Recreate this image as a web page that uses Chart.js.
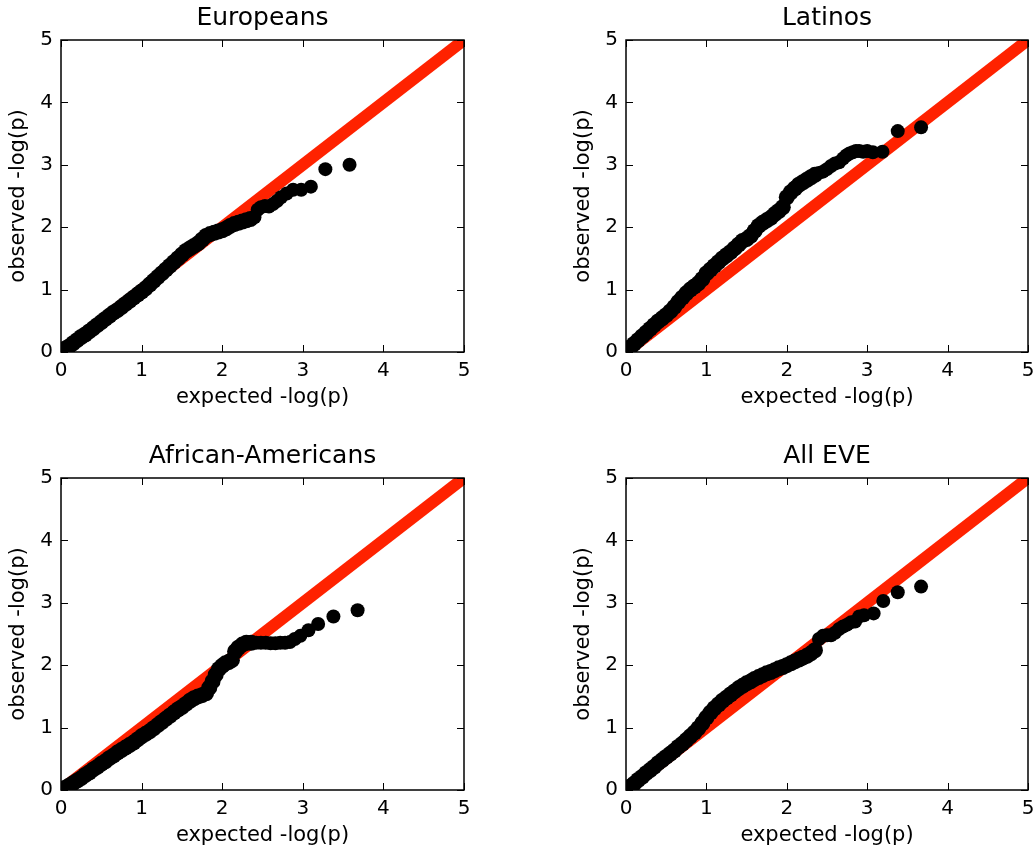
<!DOCTYPE html>
<html>
<head>
<meta charset="utf-8">
<title>QQ plots</title>
<script src="https://cdn.jsdelivr.net/npm/chart.js@4/dist/chart.umd.min.js"></script>
<style>
  html, body { margin: 0; padding: 0; background: #fff; width: 1034px; height: 846px; overflow: hidden; }
  .panel { position: absolute; }
  canvas { display: block; }
</style>
</head>
<body>
<div class="panel" style="left:0px;top:0px"><canvas id="c0" width="517" height="423"></canvas></div>
<div class="panel" style="left:565px;top:0px"><canvas id="c1" width="517" height="423"></canvas></div>
<div class="panel" style="left:0px;top:438px"><canvas id="c2" width="517" height="423"></canvas></div>
<div class="panel" style="left:565px;top:438px"><canvas id="c3" width="517" height="423"></canvas></div>
<script>
// Panel titles and axis labels
const panelTitles = ['Europeans', 'Latinos', 'African-Americans', 'All EVE'];
const xLabel = 'expected -log(p)';
const yLabel = 'observed -log(p)';
const axisTicks = [0, 1, 2, 3, 4, 5];
const diagonal = [0, 5];

// Europeans
const euExpected = [0.00,0.03,0.06,0.10,0.15,0.20,0.25,0.30,0.35,0.40,0.45,0.50,0.55,0.60,0.65,0.70,0.75,0.80,0.85,0.90,0.95,1.00,1.05,1.10,1.15,1.20,1.25,1.30,1.35,1.40,1.45,1.50,1.55,1.60,1.65,1.70,1.75,1.80,1.85,1.90,1.95,2.00,2.05,2.10,2.15,2.20,2.25,2.30,2.35,2.40,2.44,2.48,2.53,2.58,2.63,2.68,2.73,2.80,2.88,2.98,3.10,3.28,3.58];
const euObserved = [0.00,0.03,0.06,0.09,0.14,0.19,0.24,0.28,0.33,0.38,0.43,0.48,0.53,0.58,0.63,0.67,0.72,0.77,0.82,0.87,0.92,0.97,1.02,1.08,1.14,1.20,1.26,1.32,1.38,1.44,1.50,1.56,1.62,1.66,1.70,1.74,1.80,1.86,1.89,1.91,1.93,1.95,1.98,2.02,2.05,2.07,2.09,2.11,2.13,2.16,2.28,2.32,2.34,2.33,2.37,2.42,2.48,2.54,2.60,2.60,2.65,2.93,3.00];

// Latinos
const laExpected = [0.00,0.03,0.06,0.10,0.15,0.20,0.25,0.30,0.35,0.40,0.45,0.50,0.55,0.60,0.65,0.70,0.75,0.80,0.85,0.90,0.95,1.00,1.05,1.10,1.15,1.20,1.25,1.30,1.35,1.40,1.45,1.50,1.55,1.60,1.65,1.70,1.75,1.80,1.85,1.90,1.95,2.00,2.05,2.10,2.15,2.20,2.25,2.30,2.35,2.40,2.45,2.50,2.55,2.60,2.65,2.70,2.74,2.78,2.82,2.86,2.90,2.95,3.00,3.07,3.19,3.38,3.67];
const laObserved = [0.00,0.04,0.08,0.13,0.19,0.25,0.31,0.37,0.43,0.49,0.54,0.59,0.65,0.72,0.80,0.87,0.94,1.00,1.05,1.10,1.17,1.26,1.32,1.38,1.44,1.50,1.55,1.60,1.66,1.72,1.78,1.81,1.86,1.94,2.02,2.07,2.11,2.15,2.21,2.26,2.32,2.48,2.56,2.62,2.68,2.72,2.76,2.80,2.84,2.87,2.89,2.93,2.98,3.02,3.04,3.10,3.15,3.18,3.20,3.22,3.22,3.21,3.22,3.20,3.21,3.54,3.60];

// African-Americans
const aaExpected = [0.00,0.03,0.06,0.10,0.15,0.20,0.25,0.30,0.35,0.40,0.45,0.50,0.55,0.60,0.65,0.70,0.75,0.80,0.85,0.90,0.95,1.00,1.05,1.10,1.15,1.20,1.25,1.30,1.35,1.40,1.45,1.50,1.55,1.60,1.65,1.70,1.75,1.80,1.84,1.88,1.92,1.96,2.00,2.04,2.08,2.12,2.16,2.20,2.25,2.30,2.36,2.42,2.48,2.54,2.60,2.66,2.72,2.78,2.84,2.90,2.97,3.07,3.19,3.38,3.68];
const aaObserved = [0.00,0.02,0.04,0.07,0.11,0.15,0.19,0.24,0.28,0.33,0.37,0.42,0.46,0.51,0.55,0.60,0.64,0.68,0.72,0.76,0.81,0.86,0.90,0.94,0.99,1.04,1.09,1.14,1.19,1.24,1.29,1.33,1.38,1.43,1.47,1.50,1.52,1.55,1.64,1.74,1.85,1.94,1.99,2.03,2.05,2.08,2.22,2.28,2.33,2.36,2.36,2.36,2.36,2.36,2.35,2.35,2.36,2.36,2.37,2.42,2.47,2.56,2.66,2.78,2.88];

// All EVE
const eveExpected = [0.00,0.03,0.06,0.10,0.15,0.20,0.25,0.30,0.35,0.40,0.45,0.50,0.55,0.60,0.65,0.70,0.75,0.80,0.85,0.90,0.95,1.00,1.05,1.10,1.15,1.20,1.25,1.30,1.35,1.40,1.45,1.50,1.55,1.60,1.65,1.70,1.75,1.80,1.85,1.90,1.95,2.00,2.05,2.10,2.15,2.20,2.25,2.30,2.35,2.40,2.45,2.50,2.55,2.60,2.65,2.70,2.75,2.80,2.85,2.90,2.96,3.08,3.20,3.38,3.67];
const eveObserved = [0.00,0.03,0.06,0.10,0.16,0.21,0.27,0.32,0.37,0.43,0.48,0.53,0.58,0.63,0.69,0.74,0.80,0.86,0.92,0.99,1.07,1.16,1.24,1.31,1.37,1.43,1.48,1.53,1.58,1.63,1.67,1.71,1.74,1.78,1.81,1.84,1.87,1.89,1.92,1.95,1.97,2.00,2.03,2.06,2.09,2.12,2.15,2.19,2.24,2.42,2.47,2.48,2.48,2.52,2.58,2.62,2.65,2.69,2.70,2.78,2.80,2.83,3.03,3.17,3.26];

const panels = [
  { canvas: 'c0', title: panelTitles[0], xs: euExpected, ys: euObserved, areaRight: 464 },
  { canvas: 'c1', title: panelTitles[1], xs: laExpected, ys: laObserved, areaRight: 463 },
  { canvas: 'c2', title: panelTitles[2], xs: aaExpected, ys: aaObserved, areaRight: 464 },
  { canvas: 'c3', title: panelTitles[3], xs: eveExpected, ys: eveObserved, areaRight: 463 }
];

const FONT = 'DejaVu Sans';
const CANVAS_W = 517, CANVAS_H = 423;
const AREA_LEFT = 61, AREA_TOP = 40, AREA_BOTTOM = 352;

// Frame, inward tick marks on all four sides, and the panel title
const framePlugin = {
  id: 'mplFrame',
  afterDraw(chart, args, opts) {
    const { ctx, chartArea: a, scales } = chart;
    const xs = scales.x, ys = scales.y;
    const len = 7;
    ctx.save();
    ctx.strokeStyle = '#000';
    ctx.lineWidth = 1;
    ctx.beginPath();
    axisTicks.forEach(v => {
      const px = Math.round(xs.getPixelForValue(v)) + 0.5;
      ctx.moveTo(px, a.bottom); ctx.lineTo(px, a.bottom - len);
      ctx.moveTo(px, a.top); ctx.lineTo(px, a.top + len);
      const py = Math.round(ys.getPixelForValue(v)) + 0.5;
      ctx.moveTo(a.left, py); ctx.lineTo(a.left + len, py);
      ctx.moveTo(a.right, py); ctx.lineTo(a.right - len, py);
    });
    ctx.stroke();
    ctx.lineWidth = 1.5;
    ctx.strokeRect(a.left, a.top, a.right - a.left, a.bottom - a.top);
    ctx.fillStyle = '#000';
    ctx.font = '25px "' + FONT + '"';
    ctx.textAlign = 'center';
    ctx.textBaseline = 'alphabetic';
    ctx.fillText(opts.text, (a.left + a.right) / 2, 25);
    ctx.restore();
  }
};

panels.forEach(p => {
  const points = p.xs.map((x, i) => ({ x: x, y: p.ys[i] }));
  const line = diagonal.map(v => ({ x: v, y: v }));
  new Chart(document.getElementById(p.canvas), {
    type: 'scatter',
    data: {
      datasets: [
        {
          data: points,
          backgroundColor: '#000',
          borderColor: '#000',
          borderWidth: 0,
          // markers in the dense part of the curve are packed a little wider
          pointRadius: ctx => (ctx.raw && ctx.raw.x < 2.4 ? 8 : 7),
          pointHoverRadius: 7,
          clip: 0,
          order: 1
        },
        {
          type: 'line',
          data: line,
          borderColor: '#ff2200',
          borderWidth: 12,
          pointRadius: 0,
          fill: false,
          clip: 0,
          order: 2
        }
      ]
    },
    options: {
      responsive: false,
      animation: false,
      devicePixelRatio: 1,
      events: [],
      layout: { padding: { top: AREA_TOP, right: CANVAS_W - p.areaRight, bottom: 0, left: 0 } },
      plugins: {
        legend: { display: false },
        tooltip: { enabled: false },
        title: { display: false },
        mplFrame: { text: p.title }
      },
      scales: {
        x: {
          type: 'linear', min: 0, max: 5,
          grid: { display: false, drawTicks: false },
          border: { display: false },
          ticks: { stepSize: 1, padding: 7, maxRotation: 0, color: '#000', font: { family: FONT, size: 20 } },
          title: { display: true, text: xLabel, color: '#000', font: { family: FONT, size: 21 }, padding: { top: 0, bottom: 13 } },
          afterFit(s) { s.height = CANVAS_H - AREA_BOTTOM; }
        },
        y: {
          type: 'linear', min: 0, max: 5,
          grid: { display: false, drawTicks: false },
          border: { display: false },
          ticks: { stepSize: 1, padding: 8, color: '#000', font: { family: FONT, size: 20 } },
          title: { display: true, text: yLabel, color: '#000', font: { family: FONT, size: 21 }, padding: { top: 6, bottom: 0 } },
          afterFit(s) { s.width = AREA_LEFT; }
        }
      }
    },
    plugins: [framePlugin]
  });
});
</script>
</body>
</html>
